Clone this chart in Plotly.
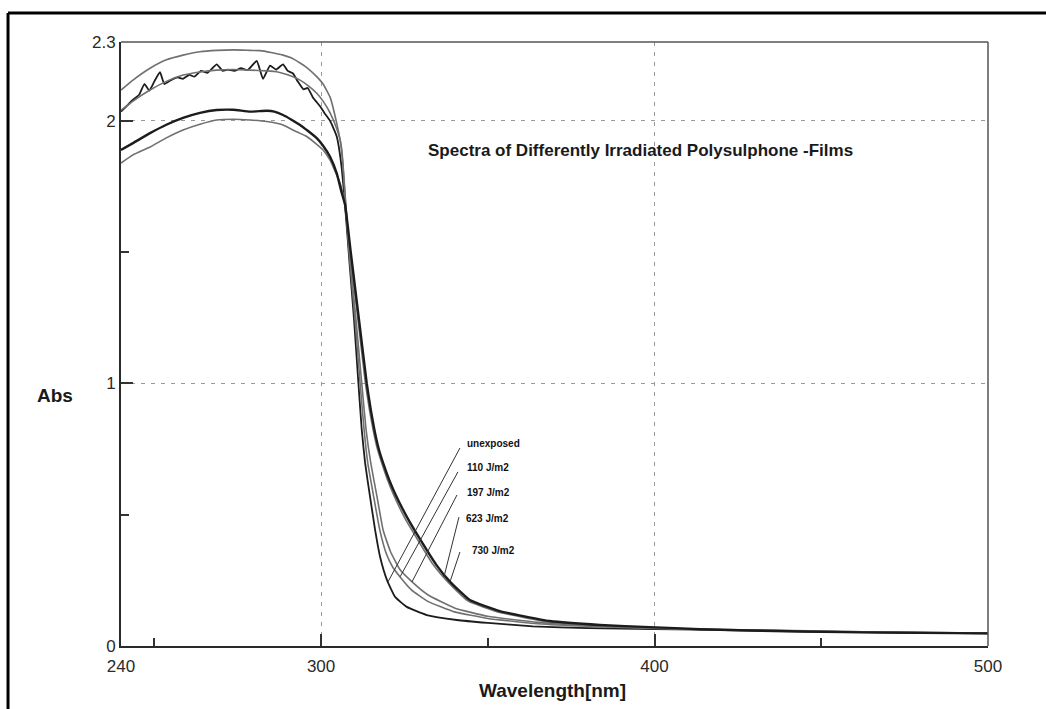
import plotly.graph_objects as go

# ---------------- data ----------------
wl_unexposed = [240, 242, 243.6, 245.5, 247, 248.5, 250, 251.7, 253, 255, 257, 258.6, 260.5, 262,
                264, 266, 268.7, 270.5, 272, 274, 276, 278, 280.7, 282.6, 284.7, 286.5, 288.6, 290,
                291.6, 293, 294.7, 296, 297.5, 299.7, 301, 302.7, 304.7, 306, 307, 308.4, 309.9,
                311.2, 312.2, 313.2, 314.7, 316.2, 317.7, 319.8, 322.2, 325.7, 331.7, 340.7, 350,
                363.5, 380, 400, 425, 450, 475, 500]
abs_unexposed = [2.035, 2.06, 2.08, 2.10, 2.14, 2.115, 2.15, 2.185, 2.14, 2.155, 2.165, 2.16, 2.175,
                 2.168, 2.19, 2.183, 2.215, 2.19, 2.195, 2.19, 2.20, 2.193, 2.228, 2.16, 2.21, 2.195,
                 2.215, 2.19, 2.18, 2.15, 2.12, 2.125, 2.09, 2.055, 2.03, 2.0, 1.94, 1.84, 1.71, 1.48,
                 1.24, 1.0, 0.823, 0.697, 0.567, 0.442, 0.339, 0.25, 0.187, 0.149, 0.118, 0.099,
                 0.088, 0.075, 0.068, 0.064, 0.06, 0.055, 0.051, 0.048]

wl_110 = [240, 243.6, 248.7, 253.6, 258.6, 263.7, 268.7, 273.7, 278.7, 281.7, 285, 288.6, 291,
          293.7, 296, 298.7, 300.6, 302.7, 304.7, 306.2, 307.2, 308.4, 310.2, 311.7, 312.9, 314.0,
          315.8, 317.6, 319.6, 321.5, 323.7, 327, 332, 340, 350, 365, 380, 400, 425, 450, 475, 500]
abs_110 = [2.117, 2.155, 2.20, 2.232, 2.25, 2.263, 2.268, 2.27, 2.268, 2.267, 2.26, 2.25, 2.24,
           2.22, 2.20, 2.168, 2.14, 2.09, 1.99, 1.89, 1.72, 1.50, 1.24, 1.0, 0.823, 0.697, 0.567,
           0.442, 0.35, 0.30, 0.263, 0.215, 0.17, 0.13, 0.105, 0.085, 0.075, 0.067, 0.061, 0.056,
           0.052, 0.049]

wl_197 = [240, 243.6, 248.7, 253.6, 258.6, 263.7, 268.7, 273.7, 278.7, 283.7, 286.7, 290, 293.7,
          296, 298.7, 300.6, 302.7, 304.7, 305.7, 306.5, 307.2, 308.5, 310.5, 312.2, 313.5, 314.9,
          316.8, 318.6, 320.8, 323.7, 327.3, 332, 340, 350, 365, 380, 400, 425, 450, 475, 500]
abs_197 = [2.04, 2.075, 2.117, 2.15, 2.174, 2.186, 2.193, 2.195, 2.193, 2.19, 2.187, 2.175, 2.155,
           2.135, 2.105, 2.075, 2.03, 1.97, 1.927, 1.84, 1.71, 1.50, 1.24, 1.0, 0.823, 0.697,
           0.567, 0.442, 0.36, 0.29, 0.244, 0.195, 0.145, 0.113, 0.09, 0.078, 0.068, 0.062, 0.057,
           0.052, 0.049]

wl_623 = [240, 243.6, 248.7, 253.6, 258.6, 263.7, 268.7, 273.7, 278.7, 283.7, 288.6, 292, 295.7,
          298.7, 300.6, 302.7, 303.6, 305.7, 307, 308.7, 311.1, 313.3, 314.5, 315.6, 316.9, 318.2,
          320.0, 321.6, 325.0, 329.2, 333.6, 338.0, 344, 353, 368, 383, 398, 413, 443, 470, 500]
abs_623 = [1.839, 1.87, 1.90, 1.935, 1.965, 1.987, 2.003, 2.006, 2.003, 1.997, 1.984, 1.962, 1.94,
           1.91, 1.889, 1.85, 1.825, 1.763, 1.69, 1.50, 1.24, 1.0, 0.9, 0.823, 0.75, 0.697, 0.63,
           0.58, 0.49, 0.40, 0.31, 0.244, 0.172, 0.13, 0.092, 0.078, 0.07, 0.063, 0.055, 0.051,
           0.048]

wl_730 = [240, 243.6, 248.7, 253.6, 258.6, 263.7, 268.7, 273.7, 278.7, 283.7, 286, 288.6, 291,
          293.7, 296, 298.7, 300.6, 302.7, 304.7, 306.2, 307.2, 308.9, 311.4, 313.7, 314.9, 316.0,
          317.3, 318.6, 320.5, 322.2, 325.8, 330, 334.5, 338.7, 344.6, 353.6, 368.6, 383.6, 398.6,
          413.6, 443.6, 470, 500]
abs_730 = [1.889, 1.915, 1.953, 1.985, 2.011, 2.03, 2.041, 2.042, 2.035, 2.038, 2.035, 2.022, 2.005,
           1.984, 1.962, 1.934, 1.905, 1.863, 1.80, 1.725, 1.68, 1.50, 1.24, 1.0, 0.9, 0.823, 0.75,
           0.697, 0.63, 0.58, 0.49, 0.40, 0.31, 0.244, 0.175, 0.133, 0.095, 0.08, 0.072, 0.064,
           0.055, 0.051, 0.048]

series_names = ["unexposed", "110 J/m2", "197 J/m2", "623 J/m2", "730 J/m2"]

x_tick_vals = [240, 300, 400, 500]
x_tick_text = ["240", "300", "400", "500"]
x_minor_vals = [250, 350, 450]
y_tick_vals = [0, 1, 2, 2.3]
y_tick_text = ["0", "1", "2", "2.3"]
y_minor_vals = [0.5, 1.5]

# label anchor positions (data coords) and leader lines
label_pos = [(343.15, 0.773), (343.15, 0.678), (343.15, 0.583), (342.85, 0.484), (344.65, 0.362)]
leaders = [((341.65, 0.754), (320.06, 0.244)),
           ((341.05, 0.663), (323.66, 0.263)),
           ((340.75, 0.575), (327.26, 0.244)),
           ((341.35, 0.491), (336.85, 0.263)),
           ((341.65, 0.358), (338.65, 0.244))]

# ---------------- figure ----------------
BLACK = "#1c1c1c"
GREY = "#707070"
styles = [(BLACK, 1.8), (GREY, 1.6), (GREY, 1.6), (GREY, 1.6), (BLACK, 2.4)]
xs = [wl_unexposed, wl_110, wl_197, wl_623, wl_730]
ys = [abs_unexposed, abs_110, abs_197, abs_623, abs_730]

fig = go.Figure()
for name, x, y, (c, w) in zip(series_names, xs, ys, styles):
    fig.add_trace(go.Scatter(x=x, y=y, mode="lines", name=name,
                             line=dict(color=c, width=w, shape="spline", smoothing=0.4),
                             hoverinfo="skip"))

tick_font = dict(family="Liberation Sans, Arial, sans-serif", size=17, color="#2a2a2a")

fig.update_xaxes(range=[240, 500], tickmode="array", tickvals=x_tick_vals, ticktext=x_tick_text,
                 ticks="inside", ticklen=12, tickwidth=1.5, tickcolor="#333",
                 showline=True, linecolor="#2a2a2a", linewidth=2,
                 showgrid=True, gridcolor="#999", griddash="4px,6px", gridwidth=1,
                 zeroline=False, tickfont=tick_font, ticklabelstandoff=4,
                 minor=dict(tickmode="array", tickvals=x_minor_vals, ticks="inside",
                            ticklen=8, tickwidth=1.5, tickcolor="#333", showgrid=False))
fig.update_yaxes(range=[0, 2.3], tickmode="array", tickvals=y_tick_vals, ticktext=y_tick_text,
                 ticks="inside", ticklen=12, tickwidth=1.5, tickcolor="#333",
                 showline=True, linecolor="#2a2a2a", linewidth=2,
                 showgrid=True, gridcolor="#999", griddash="4px,6px", gridwidth=1,
                 zeroline=False, tickfont=tick_font,
                 minor=dict(tickmode="array", tickvals=y_minor_vals, ticks="inside",
                            ticklen=8, tickwidth=1.5, tickcolor="#333", showgrid=False))

shapes = []
# top / right frame
shapes.append(dict(type="line", xref="paper", yref="paper", x0=0, x1=1, y0=1, y1=1,
                   line=dict(color="#555", width=1.5)))
shapes.append(dict(type="line", xref="paper", yref="paper", x0=1, x1=1, y0=0, y1=1,
                   line=dict(color="#555", width=1.5)))
# outer page border (top and left)
shapes.append(dict(type="line", xref="paper", yref="paper", x0=-0.1303, x1=1.1, y0=1.048, y1=1.048,
                   line=dict(color="black", width=3)))
shapes.append(dict(type="line", xref="paper", yref="paper", x0=-0.1303, x1=-0.1303, y0=1.048, y1=-0.12,
                   line=dict(color="black", width=3)))
for (p0, p1) in leaders:
    shapes.append(dict(type="line", xref="x", yref="y", x0=p0[0], y0=p0[1], x1=p1[0], y1=p1[1],
                       line=dict(color="#333", width=1)))

annotations = []
for name, (lx, ly) in zip(series_names, label_pos):
    annotations.append(dict(x=lx, y=ly, xref="x", yref="y", text=name, showarrow=False,
                            xanchor="left", yanchor="middle",
                            font=dict(family="Liberation Sans Narrow, Arial Narrow, sans-serif",
                                      size=10, color="#111", weight="bold")))
annotations.append(dict(x=(640 - 121) / 867, y=(646 - 150) / 604, xref="paper", yref="paper",
                        text="Spectra of Differently Irradiated Polysulphone -Films", showarrow=False,
                        xanchor="center", yanchor="middle",
                        font=dict(family="Liberation Sans, Arial, sans-serif", size=17,
                                  color="#1a1a1a", weight="bold")))
annotations.append(dict(x=(55 - 121) / 867, y=(646 - 395) / 604, xref="paper", yref="paper",
                        text="Abs", showarrow=False, xanchor="center", yanchor="middle",
                        font=dict(family="Liberation Sans, Arial, sans-serif", size=19,
                                  color="#1a1a1a", weight="bold")))
annotations.append(dict(x=(552 - 121) / 867, y=(646 - 690) / 604, xref="paper", yref="paper",
                        text="Wavelength[nm]", showarrow=False, xanchor="center", yanchor="middle",
                        font=dict(family="Liberation Sans, Arial, sans-serif", size=19,
                                  color="#1a1a1a", weight="bold")))

fig.update_layout(width=1046, height=709, margin=dict(l=121, r=58, t=42, b=63),
                  paper_bgcolor="white", plot_bgcolor="white", showlegend=False,
                  shapes=shapes, annotations=annotations)

fig.write_html("out.html")
